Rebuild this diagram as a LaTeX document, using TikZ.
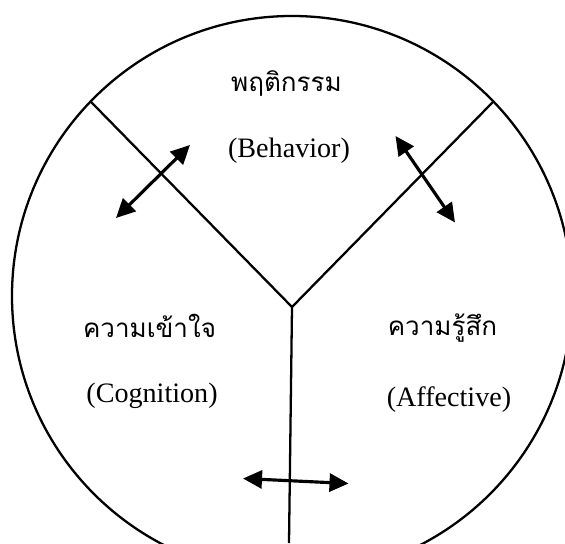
\documentclass[tikz,border=0pt]{standalone}
\usepackage{fontspec}
\setmainfont{Liberation Serif}
\newfontfamily\thaifont[Script=Thai]{Loma}
\usetikzlibrary{arrows.meta}
\begin{document}
\begin{tikzpicture}[
        label/.style={
          inner sep=0pt,
          font=\fontsize{16}{19}\selectfont
        },
        thailabel/.style={
          inner sep=0pt,
          font=\thaifont\fontsize{14.8}{18}\selectfont
        },
        divider/.style={line width=1.3pt},
        link/.style={
          line width=1.8pt,
          {Triangle[length=0.38cm,width=0.36cm]}-{Triangle[length=0.38cm,width=0.36cm]}
        }
      ]
      \useasboundingbox (-5.84,-4.94) rectangle (5.46,5.92);
      \clip (-5.84,-4.94) rectangle (5.46,5.92);

      \draw[line width=1.3pt] (0,0) circle (5.6);

      \coordinate (centre) at (0,-0.22);
      \coordinate (upleft) at (136:5.6);
      \coordinate (upright) at (44:5.6);
      \coordinate (down) at (-0.06,-4.94);

      \draw[divider] (upleft) -- (centre) -- (upright);
      \draw[divider] (centre) -- (down);

      \node[thailabel] (behth) at (-0.11,4.26) {พฤติกรรม};
      \node[label] (behen) at (-0.06,2.90) {(Behavior)};
      \node[thailabel] (cogth) at (-2.85,-0.60) {ความเข้าใจ};
      \node[label] (cogen) at (-2.80,-2.00) {(Cognition)};
      \node[thailabel] (affth) at (3.01,-0.64) {ความรู้สึก};
      \node[label] (affen) at (3.14,-2.08) {(Affective)};

      \coordinate (a1) at (-3.52,1.56);
      \coordinate (a2) at (-2.04,3.02);
      \coordinate (b1) at (2.07,3.20);
      \coordinate (b2) at (3.26,1.47);
      \coordinate (c1) at (-0.98,-3.65);
      \coordinate (c2) at (1.13,-3.75);

      \draw[link] (a1) -- (a2);
      \draw[link] (b1) -- (b2);
      \draw[link] (c1) -- (c2);
    \end{tikzpicture}
\end{document}
